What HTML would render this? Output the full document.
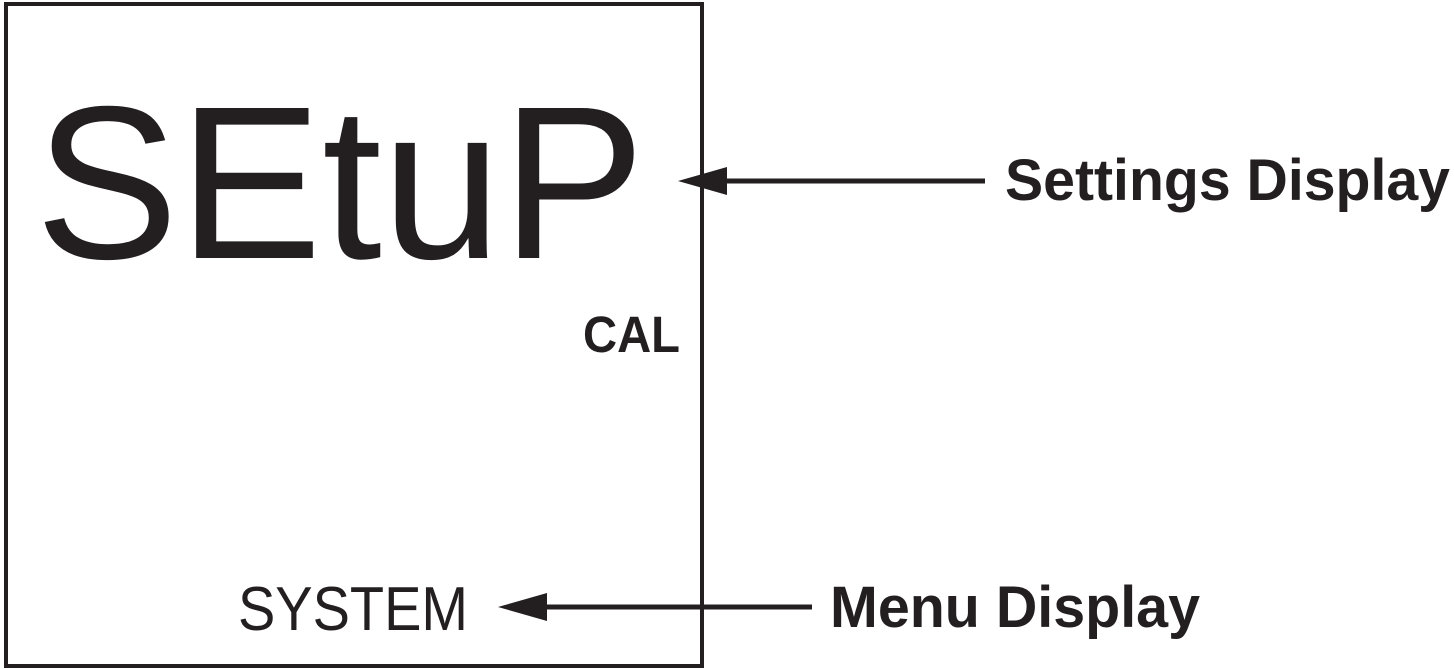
<!DOCTYPE html>
<html><head><meta charset="utf-8"><style>
html,body{margin:0;padding:0;background:#fff;}
svg{display:block;}
</style></head><body>
<svg width="1454" height="669" viewBox="0 0 1454 669" xmlns="http://www.w3.org/2000/svg">
<rect x="6" y="4" width="696" height="662" fill="none" stroke="#231f20" stroke-width="4"/>
<text x="35" y="258" font-family="Liberation Sans, sans-serif" font-size="218" fill="#231f20" textLength="610" lengthAdjust="spacingAndGlyphs">SEtuP</text>
<text x="583" y="352" font-family="Liberation Sans, sans-serif" font-size="51" font-weight="bold" fill="#231f20" textLength="97" lengthAdjust="spacingAndGlyphs">CAL</text>
<text x="238" y="630" font-family="Liberation Sans, sans-serif" font-size="62" fill="#231f20" textLength="230" lengthAdjust="spacingAndGlyphs">SYSTEM</text>
<line x1="985" y1="181" x2="715" y2="181" stroke="#231f20" stroke-width="5"/>
<polygon points="678,181 727,167 727,195" fill="#231f20"/>
<text x="1005" y="200" font-family="Liberation Sans, sans-serif" font-size="58" font-weight="bold" fill="#231f20" textLength="445" lengthAdjust="spacingAndGlyphs">Settings Display</text>
<line x1="812" y1="607" x2="535" y2="607" stroke="#231f20" stroke-width="5"/>
<polygon points="498,607 547,593 547,621" fill="#231f20"/>
<text x="830" y="627" font-family="Liberation Sans, sans-serif" font-size="58" font-weight="bold" fill="#231f20" textLength="370" lengthAdjust="spacingAndGlyphs">Menu Display</text>
</svg>
</body></html>
